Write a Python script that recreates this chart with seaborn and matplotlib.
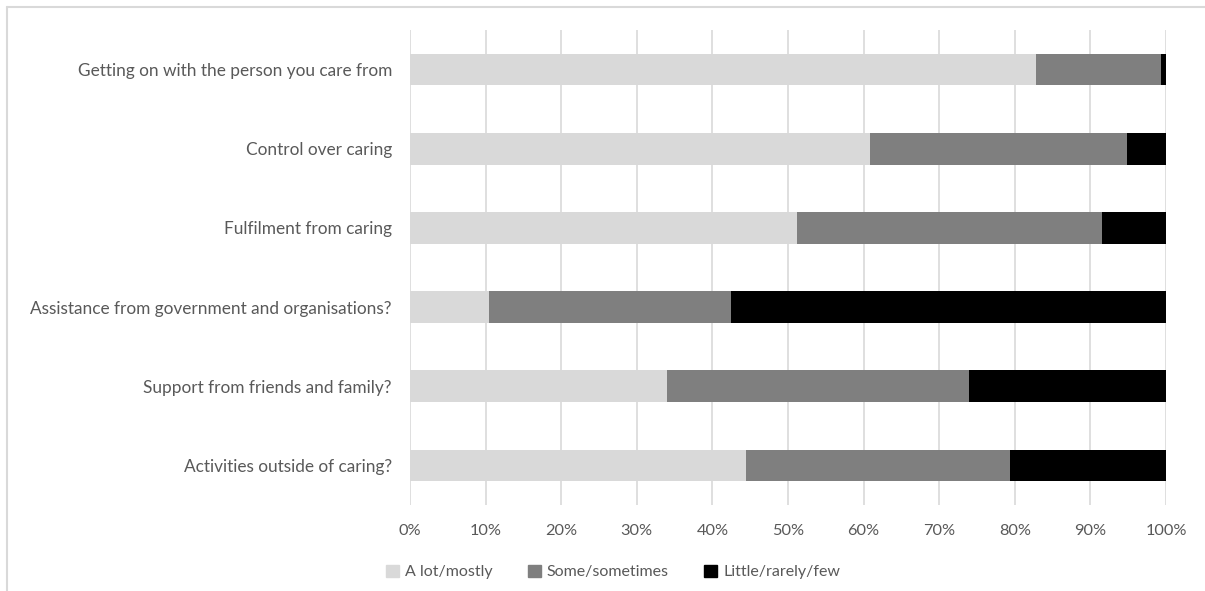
import matplotlib
matplotlib.use("Agg")
import matplotlib.pyplot as plt
import seaborn as sns
import numpy as np
import pandas as pd
from matplotlib.lines import Line2D
from matplotlib.ticker import PercentFormatter

categories = [
    "Getting on with the person you care from",
    "Control over caring",
    "Fulfilment from caring",
    "Assistance from government and organisations?",
    "Support from friends and family?",
    "Activities outside of caring?",
]
series_names = ["A lot/mostly", "Some/sometimes", "Little/rarely/few"]
a_lot = [82.8, 60.8, 51.2, 10.4, 34.0, 44.4]
some = [16.5, 34.1, 40.4, 32.1, 39.9, 35.0]
little = [0.7, 5.1, 8.4, 57.5, 26.1, 20.6]
x_ticks = [0, 10, 20, 30, 40, 50, 60, 70, 80, 90, 100]
colors = ["#d9d9d9", "#7f7f7f", "#000000"]

sns.set_theme(style="white")
plt.rcParams["font.family"] = ["Lato", "DejaVu Sans"]
text_color = "#595959"

fig = plt.figure(figsize=(12.05, 5.91), dpi=100)
ax = fig.add_axes([410 / 1205, 1 - 505 / 591, (1166 - 410) / 1205, (505 - 30) / 591])

df = pd.DataFrame({"cat": categories, "a": a_lot, "s": some, "l": little})
df["cum_a"] = df["a"]
df["cum_s"] = df["a"] + df["s"]
df["cum_l"] = df["a"] + df["s"] + df["l"]

for col, c in zip(["cum_l", "cum_s", "cum_a"], colors[::-1]):
    sns.barplot(data=df, y="cat", x=col, orient="h", color=c, width=0.4,
                saturation=1, ax=ax, order=categories, linewidth=0, zorder=3)

ax.set_xlim(0, 100)
ax.set_ylim(5.5, -0.5)
ax.set_xticks(x_ticks)
ax.xaxis.set_major_formatter(PercentFormatter(decimals=0))
ax.set_xlabel("")
ax.set_ylabel("")
ax.grid(axis="x", color="#d9d9d9", linewidth=1.2, zorder=0)
ax.set_axisbelow(True)
for s in ax.spines.values():
    s.set_visible(False)
ax.tick_params(axis="y", length=0, pad=13, labelsize=12.4, labelcolor=text_color)
ax.tick_params(axis="x", length=0, pad=14, labelsize=11.8, labelcolor=text_color)

handles = [plt.Rectangle((0, 0), 1, 1, color=c) for c in colors]
fig.legend(handles, series_names, loc="center", bbox_to_anchor=(613 / 1205, 1 - 572 / 591),
           ncol=3, frameon=False, fontsize=11.5, labelcolor=text_color,
           handlelength=0.8, handleheight=0.8, handletextpad=0.4, columnspacing=2.2)

fig.add_artist(Line2D([7 / 1205, 1], [1 - 7 / 591, 1 - 7 / 591], color="#d9d9d9", lw=1.5))
fig.add_artist(Line2D([7 / 1205, 7 / 1205], [0, 1 - 7 / 591], color="#d9d9d9", lw=1.5))

fig.savefig("out.png", dpi=100, facecolor="white")
